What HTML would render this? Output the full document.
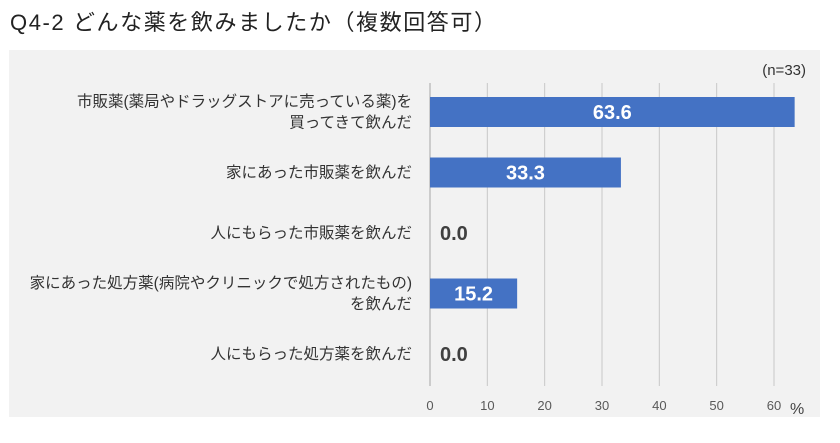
<!DOCTYPE html>
<html><head><meta charset="utf-8"><style>
body{margin:0;background:#fff;width:840px;height:438px;overflow:hidden;font-family:"Liberation Sans","Noto Sans CJK JP",sans-serif}
svg text{font-family:"Liberation Sans","Noto Sans CJK JP",sans-serif}
</style></head><body>
<svg id="c" width="840" height="438">
<text x="10" y="30" font-size="22" fill="#222" textLength="486" lengthAdjust="spacing">Q4-2  どんな薬を飲みましたか（複数回答可）</text>
<rect x="9" y="50" width="811" height="367" fill="#f2f2f2"/>
<text x="806" y="75" font-size="15" fill="#333" text-anchor="end">(n=33)</text>
<g id="grid"></g><g id="bars"></g><g id="labels"></g><g id="ticks"></g>
<text x="790" y="414" font-size="16" fill="#444">%</text>
</svg>
<script>
const categories=[["市販薬(薬局やドラッグストアに売っている薬)を","買ってきて飲んだ"],["家にあった市販薬を飲んだ"],["人にもらった市販薬を飲んだ"],["家にあった処方薬(病院やクリニックで処方されたもの)","を飲んだ"],["人にもらった処方薬を飲んだ"]];
const values=[63.6,33.3,0.0,15.2,0.0];
const tickValues=[0,10,20,30,40,50,60];
const NS="http://www.w3.org/2000/svg";
const x0=430,x1=774,xmax=60;
const xs=v=>x0+(x1-x0)*v/xmax;
const ys=i=>112+i*60.5;
function mk(t,a,p){const e=document.createElementNS(NS,t);for(const k in a)e.setAttribute(k,a[k]);document.getElementById(p).appendChild(e);return e;}
tickValues.forEach(t=>{
 const l=mk('line',{x1:xs(t),x2:xs(t),y1:83,y2:386,stroke:t===0?'#a6a6a6':'#c8c8c8','stroke-width':1},'grid');
 
 
 const tx=mk('text',{x:xs(t),y:410,'font-size':13,fill:'#595959','text-anchor':'middle'},'ticks');
 tx.textContent=t;
 
 
});
values.forEach((v,i)=>{
 const y=ys(i);
 const r=mk('rect',{x:x0,y:y-15,width:xs(v)-x0,height:30,fill:'#4472c4'},'bars');
 
 
 const inside=v>5;
 const t=mk('text',{x:inside?(x0+xs(v))/2:x0+10,y:y+7,'font-size':20,'font-weight':'bold',fill:inside?'#fff':'#404040','text-anchor':inside?'middle':'start'},'bars');
 t.textContent=v.toFixed(1);
 
 
 const lines=categories[i];
 lines.forEach((s,j)=>{
  const ty=y+5+(j-(lines.length-1)/2)*21;
  const c=mk('text',{x:412,y:ty,'font-size':15.5,fill:'#333','text-anchor':'end'},'labels');
  c.textContent=s;
  
  
 });
});
</script>
</body></html>
